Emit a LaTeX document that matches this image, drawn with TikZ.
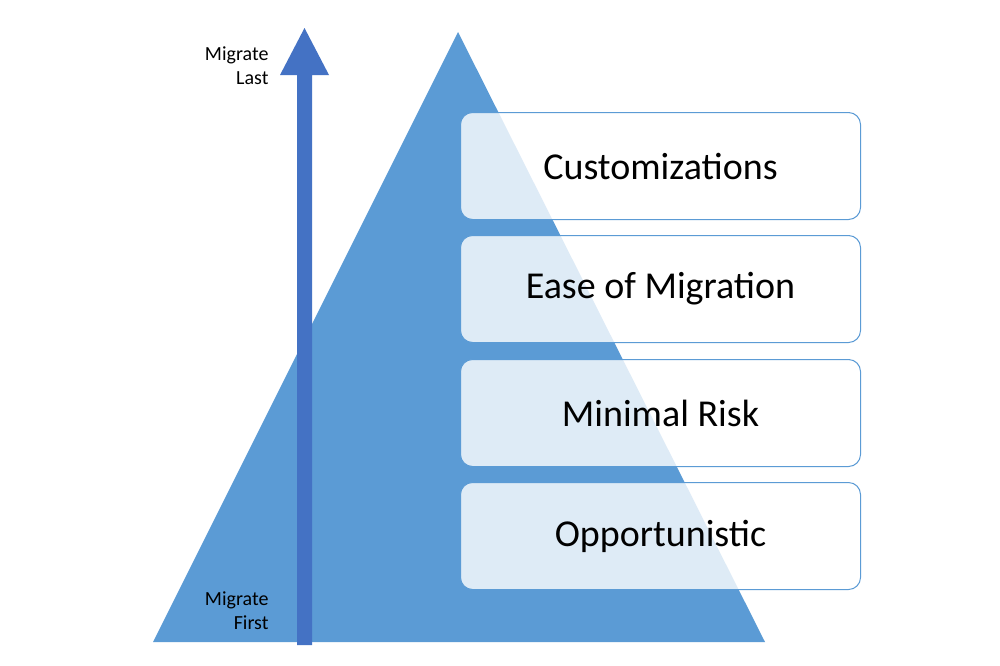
\documentclass[tikz,border=0pt]{standalone}
\usepackage{fontspec}
\setmainfont{Carlito}
\usetikzlibrary{positioning}
\definecolor{pyramidblue}{HTML}{5B9BD5}
\definecolor{arrowblue}{HTML}{4472C4}
\tikzset{
  levelbox/.style={draw=pyramidblue, line width=1pt, fill=white, fill opacity=0.8,
    text opacity=1, rounded corners=12pt, minimum width=400pt, minimum height=107pt,
    font=\fontsize{38}{44}\selectfont, anchor=north west},
  sidelabel/.style={font=\fontsize{20}{24}\selectfont, align=right}
}
\begin{document}
\begin{tikzpicture}[x=1pt,y=-1pt]
\fill[white] (0,0) rectangle (1000,665);
% pyramid
\fill[pyramidblue] (153,642) -- (458,32) -- (765,642) -- cycle;
% direction arrow
\coordinate (first) at (304.5,645);
\coordinate (last) at (304.5,28);
\fill[arrowblue] (297,645) -- (297,75) -- (280,75) -- (last) -- (329,75) -- (312,75) -- (312,645) -- cycle;
\node[sidelabel, anchor=east] (lastlabel) at (272,66) {Migrate\\Last};
\node[sidelabel, anchor=east] (firstlabel) at (272,611) {Migrate\\First};
% levels
\node[levelbox] (custom) at (460,112) {Customizations};
\node[levelbox] (ease) at (460,235) {Ease of Migration};
\node[levelbox] (risk) at (460,359) {Minimal Risk};
\node[levelbox] (opport) at (460,482) {Opportunistic};
\end{tikzpicture}
\end{document}
